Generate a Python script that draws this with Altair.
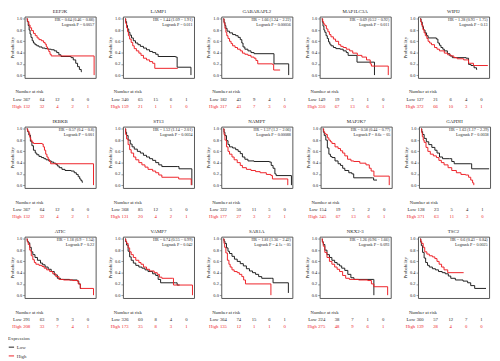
import altair as alt
import pandas as pd

FONT = "Liberation Serif"
BLACK = "#1e1e1e"
RED = "#ee2026"

GENES = ["EEF2K", "LAMP1", "GABARAPL2", "MAP1LC3A", "WIPI2",
         "IKBKB", "ST13", "NAMPT", "MAP2K7", "GAPDH",
         "ATIC", "VAMP7", "SAR1A", "NKX2-3", "TSC2"]

HR_TEXT = ["HR = 0.64 (0.46 − 0.88)", "HR = 1.44 (1.09 − 1.91)", "HR = 1.66 (1.24 − 2.22)",
           "HR = 0.69 (0.52 − 0.92)", "HR = 1.28 (0.93 − 1.75)", "HR = 0.57 (0.4 − 0.8)",
           "HR = 1.52 (1.14 − 2.01)", "HR = 1.57 (1.2 − 2.06)", "HR = 0.58 (0.44 − 0.77)",
           "HR = 1.63 (1.17 − 2.29)", "HR = 1.18 (0.9 − 1.54)", "HR = 0.74 (0.55 − 0.99)",
           "HR = 1.81 (1.36 − 2.42)", "HR = 1.26 (0.96 − 1.66)", "HR = 0.6 (0.43 − 0.84)"]
P_TEXT = ["Logrank P = 0.0057", "Logrank P = 0.011", "Logrank P = 0.00056",
          "Logrank P = 0.011", "Logrank P = 0.13", "Logrank P = 0.001",
          "Logrank P = 0.0034", "Logrank P = 0.00088", "Logrank P = 8.6e − 05",
          "Logrank P = 0.0038", "Logrank P = 0.22", "Logrank P = 0.042",
          "Logrank P = 4.1e − 05", "Logrank P = 0.093", "Logrank P = 0.0025"]

RISK_TIMES = [0, 50, 100, 150, 200]
RISK_LOW = [[367, 64, 12, 6, 0], [340, 65, 15, 6, 1], [182, 43, 9, 4, 1], [149, 19, 3, 1, 0], [127, 21, 6, 4, 0],
            [367, 64, 12, 6, 0], [368, 85, 12, 5, 0], [322, 50, 11, 5, 0], [154, 19, 3, 2, 0], [128, 23, 5, 4, 1],
            [291, 63, 9, 3, 0], [326, 60, 8, 4, 0], [364, 74, 15, 6, 1], [224, 38, 7, 1, 0], [360, 57, 12, 7, 1]]
RISK_HIGH = [[132, 32, 4, 2, 1], [159, 21, 1, 1, 0], [317, 43, 7, 3, 0], [350, 67, 13, 6, 1], [372, 66, 10, 3, 1],
             [132, 32, 4, 2, 1], [131, 20, 4, 2, 1], [177, 27, 3, 2, 1], [345, 67, 13, 6, 1], [371, 63, 11, 3, 0],
             [208, 33, 7, 4, 1], [173, 35, 8, 3, 1], [135, 12, 1, 1, 0], [275, 48, 9, 6, 1], [139, 28, 4, 0, 0]]

# Kaplan-Meier curves: (time in months, survival probability)
EEF2K_LOW = [(0, 1.0), (2, 0.95), (5, 0.88), (8, 0.8), (11, 0.73), (14, 0.67), (18, 0.61), (22, 0.57), (27, 0.54),
             (33, 0.52), (40, 0.5), (50, 0.48), (60, 0.47), (70, 0.46), (80, 0.45), (90, 0.43), (98, 0.4),
             (105, 0.36), (112, 0.33), (145, 0.31), (152, 0.27), (160, 0.21), (166, 0.15), (172, 0.1),
             (178, 0.06), (180, 0.06)]
EEF2K_HIGH = [(0, 1.0), (3, 0.95), (7, 0.89), (11, 0.84), (16, 0.79), (22, 0.74), (28, 0.7), (34, 0.66), (40, 0.63),
              (48, 0.61), (55, 0.58), (60, 0.55), (64, 0.5), (68, 0.46), (72, 0.42), (76, 0.37), (80, 0.34),
              (220, 0.34), (220, 0.0)]
LAMP1_LOW = [(0, 1.0), (2, 0.95), (5, 0.88), (8, 0.82), (12, 0.76), (16, 0.71), (21, 0.66), (27, 0.61), (34, 0.57),
             (42, 0.54), (50, 0.51), (60, 0.48), (70, 0.45), (80, 0.42), (90, 0.4), (100, 0.37), (108, 0.33),
             (165, 0.32), (170, 0.14), (215, 0.14), (215, 0.0)]
LAMP1_HIGH = [(0, 1.0), (2, 0.92), (5, 0.84), (8, 0.77), (11, 0.7), (15, 0.64), (20, 0.58), (25, 0.52), (30, 0.47),
              (37, 0.43), (45, 0.39), (52, 0.35), (60, 0.3), (70, 0.27), (80, 0.24), (90, 0.21), (97, 0.12),
              (172, 0.12)]
GABARAPL2_LOW = [(0, 1.0), (2, 0.94), (5, 0.88), (8, 0.83), (12, 0.78), (20, 0.75), (30, 0.72), (40, 0.7),
                 (48, 0.67), (55, 0.63), (60, 0.57), (64, 0.5), (70, 0.46), (80, 0.43), (90, 0.4), (100, 0.38),
                 (162, 0.38), (165, 0.2), (213, 0.2), (213, 0.0)]
GABARAPL2_HIGH = [(0, 1.0), (2, 0.92), (5, 0.83), (8, 0.76), (11, 0.7), (15, 0.65), (20, 0.6), (25, 0.56),
                  (30, 0.52), (38, 0.49), (46, 0.46), (55, 0.43), (62, 0.39), (70, 0.37), (80, 0.35), (90, 0.32),
                  (100, 0.3), (106, 0.26), (112, 0.2), (160, 0.19), (164, 0.09), (185, 0.09)]
MAP1LC3A_LOW = [(0, 1.0), (2, 0.94), (4, 0.87), (7, 0.8), (10, 0.76), (14, 0.7), (18, 0.65), (22, 0.59),
                (26, 0.55), (30, 0.52), (38, 0.49), (46, 0.47), (60, 0.46), (70, 0.43), (80, 0.4), (86, 0.35),
                (112, 0.35), (115, 0.23), (172, 0.23), (172, 0.0)]
MAP1LC3A_HIGH = [(0, 1.0), (3, 0.95), (6, 0.91), (10, 0.88), (15, 0.82), (20, 0.77), (25, 0.72), (30, 0.68),
                 (38, 0.64), (45, 0.6), (55, 0.54), (62, 0.51), (70, 0.49), (80, 0.46), (91, 0.43), (101, 0.39),
                 (116, 0.35), (131, 0.32), (146, 0.27), (158, 0.2), (162, 0.16), (217, 0.16), (217, 0.0)]
WIPI2_LOW = [(0, 1.0), (3, 0.94), (7, 0.86), (11, 0.8), (16, 0.75), (21, 0.7), (26, 0.66), (53, 0.64), (58, 0.57),
             (63, 0.53), (68, 0.49), (74, 0.46), (79, 0.43), (89, 0.38), (97, 0.34), (105, 0.31), (150, 0.3),
             (158, 0.19), (166, 0.17), (176, 0.13), (184, 0.1), (186, 0.1)]
WIPI2_HIGH = [(0, 1.0), (2, 0.95), (5, 0.89), (9, 0.81), (13, 0.75), (17, 0.7), (22, 0.65), (26, 0.6), (31, 0.57),
              (37, 0.54), (47, 0.49), (55, 0.46), (63, 0.43), (79, 0.39), (90, 0.36), (100, 0.34), (110, 0.31),
              (121, 0.29), (142, 0.27), (158, 0.21), (174, 0.17), (221, 0.17)]
IKBKB_LOW = [(0, 1.0), (3, 0.95), (7, 0.89), (12, 0.78), (17, 0.7), (22, 0.62), (28, 0.57), (33, 0.54), (40, 0.51),
             (48, 0.49), (56, 0.47), (63, 0.45), (72, 0.43), (80, 0.41), (88, 0.39), (95, 0.37), (100, 0.34),
             (106, 0.31), (115, 0.28), (125, 0.26), (145, 0.25), (155, 0.22), (162, 0.19), (168, 0.15),
             (173, 0.11), (177, 0.08), (181, 0.05), (183, 0.05)]
IKBKB_HIGH = [(0, 1.0), (3, 0.96), (7, 0.92), (10, 0.85), (13, 0.8), (17, 0.76), (22, 0.74), (50, 0.73),
              (54, 0.68), (58, 0.62), (62, 0.55), (66, 0.5), (70, 0.46), (74, 0.42), (78, 0.38), (218, 0.38),
              (218, 0.0)]
ST13_LOW = [(0, 1.0), (2, 0.94), (5, 0.88), (10, 0.8), (17, 0.73), (23, 0.68), (30, 0.64), (40, 0.6), (50, 0.57),
            (60, 0.53), (70, 0.5), (80, 0.47), (90, 0.44), (100, 0.4), (110, 0.36), (120, 0.33), (172, 0.33),
            (176, 0.29), (218, 0.29), (218, 0.0)]
ST13_HIGH = [(0, 1.0), (2, 0.9), (5, 0.82), (10, 0.72), (15, 0.63), (20, 0.57), (28, 0.5), (35, 0.45), (45, 0.4),
             (55, 0.36), (65, 0.32), (75, 0.28), (90, 0.25), (100, 0.22), (110, 0.18), (120, 0.14), (170, 0.14),
             (175, 0.11), (216, 0.11), (216, 0.0)]
NAMPT_LOW = [(0, 1.0), (2, 0.94), (5, 0.88), (10, 0.79), (15, 0.72), (20, 0.68), (30, 0.66), (40, 0.63),
             (48, 0.6), (55, 0.56), (62, 0.5), (70, 0.46), (80, 0.43), (100, 0.42), (150, 0.41), (156, 0.35),
             (162, 0.3), (168, 0.2), (172, 0.17), (222, 0.17), (222, 0.0)]
NAMPT_HIGH = [(0, 1.0), (2, 0.9), (5, 0.8), (10, 0.68), (15, 0.6), (20, 0.55), (28, 0.5), (35, 0.45), (45, 0.4),
              (55, 0.35), (62, 0.31), (75, 0.28), (90, 0.26), (105, 0.24), (120, 0.22), (140, 0.19), (155, 0.17),
              (160, 0.11), (210, 0.11), (210, 0.0)]
MAP2K7_LOW = [(0, 1.0), (2, 0.94), (5, 0.88), (10, 0.8), (15, 0.66), (20, 0.55), (25, 0.51), (30, 0.49),
              (40, 0.43), (50, 0.38), (58, 0.35), (65, 0.3), (72, 0.26), (85, 0.22), (95, 0.2), (101, 0.13),
              (162, 0.13), (166, 0.09), (177, 0.09)]
MAP2K7_HIGH = [(0, 1.0), (3, 0.95), (6, 0.92), (10, 0.9), (15, 0.84), (20, 0.8), (25, 0.77), (30, 0.74),
               (40, 0.68), (50, 0.65), (58, 0.61), (65, 0.57), (72, 0.52), (81, 0.46), (92, 0.43), (101, 0.42),
               (121, 0.39), (141, 0.36), (152, 0.3), (158, 0.25), (167, 0.16), (217, 0.16), (217, 0.0)]
GAPDH_LOW = [(0, 1.0), (2, 0.95), (5, 0.9), (10, 0.83), (17, 0.77), (25, 0.72), (35, 0.67), (45, 0.62),
             (52, 0.57), (60, 0.5), (70, 0.47), (92, 0.47), (100, 0.42), (108, 0.38), (162, 0.38), (165, 0.29),
             (222, 0.29)]
GAPDH_HIGH = [(0, 1.0), (2, 0.93), (4, 0.86), (7, 0.8), (10, 0.76), (16, 0.67), (22, 0.6), (30, 0.55), (40, 0.52),
              (50, 0.49), (58, 0.44), (66, 0.4), (75, 0.36), (88, 0.31), (100, 0.26), (115, 0.22), (130, 0.19),
              (145, 0.18), (155, 0.14), (162, 0.09), (168, 0.04), (172, 0.0)]
ATIC_LOW = [(0, 1.0), (2, 0.96), (5, 0.93), (10, 0.85), (15, 0.77), (20, 0.72), (27, 0.67), (35, 0.62), (45, 0.57),
            (52, 0.54), (60, 0.5), (70, 0.46), (80, 0.42), (90, 0.36), (100, 0.3), (110, 0.28), (140, 0.27),
            (165, 0.25), (170, 0.2), (175, 0.12), (178, 0.12)]
ATIC_HIGH = [(0, 1.0), (2, 0.95), (5, 0.9), (10, 0.8), (15, 0.7), (20, 0.63), (25, 0.58), (30, 0.55), (40, 0.53),
             (50, 0.51), (57, 0.48), (65, 0.45), (75, 0.42), (85, 0.38), (95, 0.33), (105, 0.28), (120, 0.27),
             (150, 0.26), (168, 0.2), (175, 0.12), (218, 0.12), (218, 0.0)]
VAMP7_LOW = [(0, 1.0), (2, 0.95), (5, 0.89), (10, 0.78), (15, 0.68), (20, 0.62), (27, 0.57), (35, 0.53), (45, 0.5),
             (55, 0.48), (65, 0.45), (75, 0.42), (90, 0.38), (100, 0.35), (108, 0.28), (116, 0.22), (165, 0.22),
             (170, 0.18), (178, 0.18)]
VAMP7_HIGH = [(0, 1.0), (2, 0.96), (5, 0.92), (10, 0.84), (15, 0.77), (20, 0.72), (27, 0.67), (35, 0.62),
              (45, 0.58), (52, 0.55), (60, 0.5), (70, 0.46), (80, 0.43), (95, 0.4), (105, 0.37), (112, 0.32),
              (120, 0.3), (155, 0.3), (158, 0.18), (220, 0.18), (220, 0.0)]
SAR1A_LOW = [(0, 1.0), (2, 0.96), (5, 0.92), (10, 0.84), (15, 0.78), (20, 0.74), (28, 0.69), (36, 0.64),
             (45, 0.6), (55, 0.56), (65, 0.52), (75, 0.47), (85, 0.43), (95, 0.4), (105, 0.37), (115, 0.33),
             (125, 0.3), (158, 0.3), (162, 0.22), (212, 0.22), (212, 0.04)]
SAR1A_HIGH = [(0, 1.0), (2, 0.92), (4, 0.85), (8, 0.75), (13, 0.62), (18, 0.55), (22, 0.5), (28, 0.45), (35, 0.42),
              (45, 0.4), (52, 0.37), (60, 0.33), (66, 0.27), (72, 0.2), (155, 0.2), (155, 0.0)]
NKX23_LOW = [(0, 1.0), (2, 0.95), (5, 0.9), (10, 0.8), (17, 0.72), (25, 0.67), (33, 0.62), (42, 0.58), (50, 0.55),
             (58, 0.52), (65, 0.48), (75, 0.44), (85, 0.37), (95, 0.31), (105, 0.28), (168, 0.28), (170, 0.0)]
NKX23_HIGH = [(0, 1.0), (2, 0.94), (5, 0.87), (10, 0.76), (17, 0.67), (25, 0.6), (33, 0.55), (42, 0.5), (50, 0.46),
              (58, 0.42), (68, 0.35), (78, 0.3), (90, 0.28), (120, 0.27), (150, 0.26), (162, 0.2), (170, 0.15),
              (215, 0.15), (215, 0.0)]
TSC2_LOW = [(0, 1.0), (2, 0.94), (4, 0.88), (8, 0.76), (13, 0.66), (18, 0.58), (24, 0.53), (30, 0.5), (40, 0.47),
            (50, 0.45), (60, 0.42), (72, 0.4), (82, 0.38), (92, 0.34), (100, 0.3), (115, 0.27), (140, 0.25),
            (155, 0.22), (165, 0.17), (178, 0.12), (215, 0.12)]
TSC2_HIGH = [(0, 1.0), (2, 0.96), (5, 0.92), (10, 0.85), (15, 0.77), (22, 0.73), (30, 0.7), (40, 0.68), (48, 0.65),
             (55, 0.6), (62, 0.55), (70, 0.5), (78, 0.45), (90, 0.4), (142, 0.4)]

CURVES = [(EEF2K_LOW, EEF2K_HIGH), (LAMP1_LOW, LAMP1_HIGH), (GABARAPL2_LOW, GABARAPL2_HIGH),
          (MAP1LC3A_LOW, MAP1LC3A_HIGH), (WIPI2_LOW, WIPI2_HIGH), (IKBKB_LOW, IKBKB_HIGH),
          (ST13_LOW, ST13_HIGH), (NAMPT_LOW, NAMPT_HIGH), (MAP2K7_LOW, MAP2K7_HIGH),
          (GAPDH_LOW, GAPDH_HIGH), (ATIC_LOW, ATIC_HIGH), (VAMP7_LOW, VAMP7_HIGH),
          (SAR1A_LOW, SAR1A_HIGH), (NKX23_LOW, NKX23_HIGH), (TSC2_LOW, TSC2_HIGH)]

W, H = 73, 63
XS = alt.Scale(domain=[-7, 225], nice=False, zero=False)
YS = alt.Scale(domain=[-0.05, 1.04], nice=False, zero=False)


def txt(text, x, y, color=BLACK, align="center", size=4.4):
    return alt.Chart(pd.DataFrame({"v": [text]})).mark_text(
        font=FONT, fontSize=size, align=align, baseline="middle", color=color
    ).encode(x=alt.value(x), y=alt.value(y), text="v:N")


def panel(i):
    low, high = CURVES[i]
    rows = []
    for g, pts in (("Low", low), ("High", high)):
        for k, (t, s) in enumerate(pts):
            rows.append({"t": t, "s": s, "g": g, "i": k})
    df = pd.DataFrame(rows)
    lines = alt.Chart(df).mark_line(interpolate="step-after", strokeWidth=1.0).encode(
        x=alt.X("t:Q", scale=XS, axis=alt.Axis(values=RISK_TIMES, title="Time (months)")),
        y=alt.Y("s:Q", scale=YS, axis=alt.Axis(values=[0, 0.2, 0.4, 0.6, 0.8, 1.0], format=".1f",
                                               title="Probability")),
        color=alt.Color("g:N", scale=alt.Scale(domain=["Low", "High"], range=[BLACK, RED]),
                        legend=alt.Legend(orient="none", legendX=-17, legendY=328, title="Expression",
                                          titleFont=FONT, titleFontSize=5, titleFontWeight="normal",
                                          titleColor="#333", labelFont=FONT, labelFontSize=5,
                                          labelColor="#333", symbolType="stroke", symbolSize=30,
                                          symbolStrokeWidth=1, rowPadding=2, titlePadding=3,
                                          labelOffset=2)),
        order=alt.Order("i:Q"),
    )
    layers = [lines,
              txt(HR_TEXT[i], W - 1.5, 3.8, align="right", size=4.2),
              txt(P_TEXT[i], W - 1.5, 8.6, align="right", size=4.2),
              txt("Number at risk", 5, H + 15, size=4.8),
              txt("Low", -3, H + 23, align="right", size=4.8),
              txt("High", -3, H + 30, color=RED, align="right", size=4.8)]
    for counts, yy, col in ((RISK_LOW[i], H + 23, BLACK), (RISK_HIGH[i], H + 30, RED)):
        rdf = pd.DataFrame({"t": RISK_TIMES, "n": counts})
        layers.append(alt.Chart(rdf).mark_text(font=FONT, fontSize=4.8, baseline="middle", color=col).encode(
            x=alt.X("t:Q", scale=XS, axis=None), y=alt.value(yy), text="n:Q"))
    return alt.layer(*layers).properties(
        width=W, height=H,
        title=alt.TitleParams(GENES[i], font=FONT, fontSize=5, fontWeight="normal", offset=2,
                              frame="group", color="#222"))


rows = [alt.hconcat(*[panel(r * 5 + c) for c in range(5)], spacing=10) for r in range(3)]
chart = alt.vconcat(*rows, spacing=8, padding={"top": -5, "left": 0, "right": 0, "bottom": 0}).resolve_scale(
    color="shared"
).configure_view(
    stroke="#555", strokeWidth=1
).configure_axis(
    domain=False, grid=False, labelFont=FONT, titleFont=FONT, labelFontSize=4.5, titleFontSize=5,
    tickSize=2, tickWidth=0.6, tickColor="#555", labelColor="#222", titleColor="#222",
    labelPadding=1, titleFontWeight="normal"
).configure_axisX(titlePadding=1).configure_axisY(titlePadding=2)

chart.save("out.html", embed_options={"renderer": "svg", "actions": False})
